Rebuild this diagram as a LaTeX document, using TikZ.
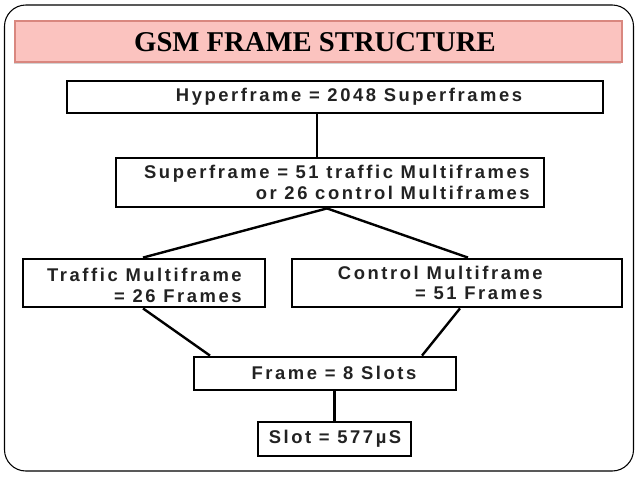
\documentclass[tikz,border=0pt]{standalone}
\usepackage{fontspec}
\setmainfont{Liberation Serif}
\newfontfamily\boxfont[LetterSpace=14]{Liberation Sans}
\usetikzlibrary{positioning,shadows}
\definecolor{barfill}{HTML}{FBC3BF}
\definecolor{barline}{HTML}{D9877F}
\definecolor{boxtext}{HTML}{222222}
\tikzset{
  frmbox/.style={draw=black,line width=2.1pt,fill=white,inner sep=0pt},
  frmtext/.style={font=\boxfont\bfseries\fontsize{13.8}{15.5}\selectfont,text=boxtext,inner sep=0pt},
  link/.style={line width=1.8pt}
}

\begin{document}
\begin{tikzpicture}[x=0.75pt,y=-0.75pt]
\useasboundingbox (0,0) rectangle (638,479);
\draw[rounded corners=16pt,line width=0.8pt] (4.5,5) rectangle (633.5,471);

% title bar
\node[draw=barline,fill=barfill,line width=1pt,minimum width=455.25pt,minimum height=30.75pt,
  drop shadow={shadow xshift=-0.6pt,shadow yshift=-1.6pt,opacity=0.35}] (bar) at (318.5,41.5) {};
\node[font=\bfseries\fontsize{21.5}{24}\selectfont] (title) at (315,42) {GSM FRAME STRUCTURE};

% boxes
\node[frmbox,minimum width=402pt,minimum height=24pt] (hyper) at (335,97) {};
\node[frmbox,minimum width=321pt,minimum height=36.75pt] (super) at (330,182.5) {};
\node[frmbox,minimum width=181.5pt,minimum height=36pt] (traffic) at (144,283) {};
\node[frmbox,minimum width=247.5pt,minimum height=36pt] (control) at (457,283) {};
\node[frmbox,minimum width=196.5pt,minimum height=24.75pt] (frame) at (325,373.5) {};
\node[frmbox,minimum width=114.75pt,minimum height=25.5pt] (slot) at (334.5,439) {};

% texts
\node[frmtext] (hyperT) at (349,97) {Hyperframe = 2048 Superframes};
\node[frmtext,align=right,anchor=east] (superT) at (530,182.5) {Superframe = 51 traffic Multiframes\\or 26 control Multiframes};
\node[frmtext,align=right,anchor=east] (trafficT) at (242,285.5) {Traffic Multiframe\\= 26 Frames};
\node[frmtext,align=right,anchor=east] (controlT) at (543,283) {Control Multiframe\\= 51 Frames};
\node[frmtext] (frameT) at (334,372.5) {Frame = 8 Slots};
\node[frmtext] (slotT) at (335,438.5) {Slot = 577µS};

% connectors
\draw[link] ([xshift=-13.5pt]hyper.south) -- ([xshift=-13.5pt]hyper.south |- super.north);
\draw[link] ([xshift=-2.25pt]super.south) -- ([xshift=-0.75pt]traffic.north);
\draw[link] ([xshift=-2.25pt]super.south) -- ([xshift=8.25pt]control.north);
\draw[link] ([xshift=-0.75pt]traffic.south) -- ([xshift=-86.25pt]frame.north);
\draw[link] ([xshift=2.25pt]control.south) -- ([xshift=72.75pt]frame.north);
\draw[link] (slot.north |- frame.south) -- (slot.north);
\end{tikzpicture}
\end{document}
